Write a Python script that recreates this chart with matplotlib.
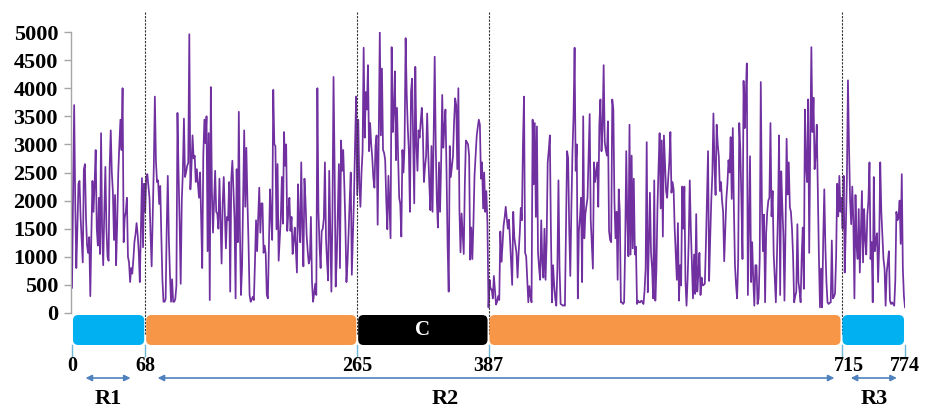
import numpy as np
import matplotlib
matplotlib.use("Agg")
import matplotlib.pyplot as plt
from matplotlib.patches import FancyBboxPatch, FancyArrowPatch
from matplotlib.transforms import blended_transform_factory

plt.rcParams["font.family"] = ["Liberation Serif", "DejaVu Serif"]
plt.rcParams["font.weight"] = "bold"

# ---------------- data ----------------
r1_vals = [450, 2000, 3700, 2000, 800, 1500, 2300, 2350, 1700, 1300,
           900, 2550, 2650, 1700, 1200, 1070, 1350, 300, 1400, 2350,
           1800, 2300, 2900, 1500, 1200, 2050, 1050, 3200, 1460, 850,
           1800, 2600, 1500, 1000, 930, 2600, 3250, 2500, 2150, 1300,
           2100, 850, 1600, 2500, 3000, 3440, 2900, 4000, 1260, 1700,
           1800, 2050, 1000, 900, 550, 800, 700, 950, 1260, 1400,
           1600, 1400, 1100, 550, 1500, 2400, 1170, 2300]

n_vals = [1800, 2420, 2470, 2250, 2050, 1400, 830, 1700, 2600, 3850,
          2700, 2330, 2360, 1940, 2260, 1370, 600, 200, 200, 250,
          1500, 2440, 1330, 700, 200, 600, 200, 200, 250, 490,
          3560, 2500, 1600, 520, 2000, 2500, 3460, 2420, 2500, 2620,
          2670, 4960, 2200, 2600, 3160, 2750, 2800, 2330, 2560, 2300,
          2050, 2500, 1700, 800, 2800, 3440, 3020, 3500, 1100, 3200,
          230,
          4020, 2170, 1430, 2000, 2530, 1800, 1770, 1500, 2390, 1600,
          880, 1950, 2420, 1800, 1150, 1710, 1650, 2330, 380, 2390,
          2710, 2200, 1680, 260, 2560, 1260, 3580, 1500, 320, 800,
          2000, 3250, 1890, 2940, 2000, 1260, 320, 200, 240, 290,
          230, 900, 1650, 1100, 1700, 2230, 1430, 1950, 1950, 1070,
          1200, 1050, 320, 260, 1200, 2200, 1700, 1300, 3970, 3000,
          2970, 1490, 2650, 930, 1300, 1680, 2420, 1590, 3220, 2620,
          3000, 1460, 1800, 2050, 1460, 1710, 1050, 1300, 1520, 1100,
          720, 2290, 1600, 1260, 2680, 1500, 830, 2390, 1980, 1390,
          1100, 880, 960, 1710, 550, 200, 350, 520, 320, 4000,
          1800, 1200, 800, 1460, 1500, 1680, 2680, 1330, 900, 580,
          2530, 1500, 380, 1740, 4200, 2600, 470, 960, 1800, 2650,
          800, 3070, 2530, 2900, 2300, 1600, 550, 900, 1420, 2000,
          2500, 680, 1400, 2050, 3000, 3850]

c_vals = [2100, 3440, 2290, 1890, 2500, 2880, 4720, 3120, 3930, 3620,
          4410, 2880, 3380, 3000, 2760, 2400, 2230, 2970, 3160, 1570,
          3120, 5000, 3160, 4350, 2900, 2850, 2720, 2000, 1490, 2440,
          1900, 1330, 4730, 3220, 3600, 4300, 2720, 3650, 2800, 2050,
          1940, 1360, 2900, 2500, 2970, 4890, 3900, 3300, 2880, 1800,
          3940, 4170, 3000, 1950, 4380, 3000, 2530, 3250, 3120, 3400,
          3650, 3220, 2330, 2600, 2790, 3550, 2850, 2300, 1830, 2970,
          1800, 3100, 4560, 2970, 2000, 1520, 2680, 1800, 2700, 3880,
          2940, 3300, 3620, 2530, 1200, 380, 2970, 2420, 2600, 2790,
          3400, 3820, 3700, 2560, 4000, 1830, 1080, 1770, 1400, 1050,
          2290, 3070, 3040, 3000, 2800, 950, 1520, 960, 1600, 2440,
          2800, 3140, 3300, 3440, 3350, 2390, 2680, 1860, 2500, 1800,
          2170, 1600]

m_vals = [100, 590, 420, 420, 260, 660, 400, 150, 200, 300,
          230, 1450, 910, 1200, 1550, 1700, 1890, 1680, 1500, 1660,
          1300, 900, 500, 1800, 1340, 1200, 1070, 630, 1070, 1400,
          1870, 1650, 3000, 3850, 1070, 1010, 600, 190, 480, 300,
          190, 3440, 2290, 3380, 1710, 3320, 1070, 800, 590, 1650,
          900, 630, 1500, 590, 1260, 2680, 2900, 3160, 1430, 190,
          850, 500, 260, 130, 790, 2360, 800, 160, 150, 130,
          140, 130, 1520, 2880, 2760, 1500, 660, 1860, 2850, 3500,
          4720, 2530, 3000, 260, 1460, 1700, 2050, 550, 3500, 1330,
          1760, 1900, 2050, 2800, 3540, 1650, 1200, 790, 2680, 2330,
          2500, 2680, 1890, 3350, 3800, 2880, 3300, 4410, 3040, 2900,
          2800, 3410, 1460, 1300, 1260, 3800, 3620, 2000, 1330, 1800,
          590, 2200, 1800, 190, 190, 160, 190, 1200, 2880, 1650,
          1010, 3350, 1040, 2800, 1150, 2390, 1040, 1180, 160, 220,
          190, 190, 220, 200, 160, 400, 790, 3040, 370, 1200,
          2140, 1070, 800, 260, 2360, 220, 760, 1890, 2600, 3200,
          1860, 3070, 1360, 3160, 2650, 2170, 2050, 2400, 2680, 3220,
          2140, 2330, 2200, 1500, 1040, 590, 1600, 220, 850, 490,
          2250, 1500, 2250, 570, 130, 600, 1260, 2360, 1500, 880,
          260, 1040, 340, 1760, 380, 700, 1070, 320, 630, 490,
          500, 520, 1200, 2050, 2880, 570, 1330, 2000, 2470, 3550,
          2620, 2100, 3350, 3000, 2790, 2170, 2330, 2000, 1800, 920,
          1460, 2030, 2300, 2720, 2500, 3130, 2030, 3290, 1880, 850,
          500, 260, 960, 3380, 2900, 2000, 960, 4130, 3290, 3800,
          4440, 320, 1500, 2790, 550, 1260, 600, 130, 850, 850,
          160, 260, 960, 4110, 2000, 1100, 1750, 190, 1420, 1800,
          2000, 2050, 3380, 1720, 2170, 1040, 600, 190, 1000, 1800,
          3160, 320, 2520, 1910, 1380, 220, 1500, 3100, 2110, 2680,
          1880, 1800, 1500, 1010, 190, 300, 380, 1580, 550, 400,
          190, 1000, 1520, 430, 3620, 2620, 2330, 3800, 1070, 3070,
          4730, 3220, 3830, 2560, 2800, 3350, 2170, 1000, 100, 790,
          100, 1290, 2200, 1200, 550, 190, 160, 180, 190, 1290,
          260, 290, 350, 1000, 2300, 1720, 2440, 1800]

r3_vals = [2050, 1500, 2440, 720, 1500, 2390, 4140, 2940, 2000, 1580,
           2250, 1650, 260, 2100, 1200, 960, 1850, 720, 1420, 2170,
           900, 1850, 1300, 1040, 1740, 2000, 2680, 960, 1260, 190,
           2420, 1100, 1300, 1420, 550, 1200, 2680, 1800, 1400, 960,
           790, 130, 720, 900, 1100, 220, 160, 190, 160, 130,
           580, 1800, 1650, 1700, 2000, 1230, 2470, 790, 300, 100]

boundaries = [0, 68, 265, 387, 715, 774]
segment_colors = ["#00B0F0", "#F79646", "#000000", "#F79646", "#00B0F0"]
segment_labels = ["", "", "C", "", ""]
divider_positions = [68, 265, 387, 715]
y_ticks = [0, 500, 1000, 1500, 2000, 2500, 3000, 3500, 4000, 4500, 5000]
regions = [("R1", 0, 68), ("R2", 68, 715), ("R3", 715, 774)]

values = np.array(r1_vals + n_vals + c_vals + m_vals + r3_vals, dtype=float)
xs = np.arange(len(values))

# ---------------- figure ----------------
W, H = 927, 408
fig = plt.figure(figsize=(W / 100, H / 100), dpi=100)


def fx(px):
    return px / W


def fy(py):
    return 1 - py / H


ax = fig.add_axes([fx(72), fy(313), fx(905) - fx(72), fy(32) - fy(313)])
ax.plot(xs, values, color="#7030A0", lw=1.25, zorder=3)
ax.set_xlim(0, 774)
ax.set_ylim(0, 5000)
ax.set_yticks(y_ticks)
ax.set_yticklabels([str(t) for t in y_ticks])
ax.tick_params(axis="y", labelsize=16, color="#A6A6A6", length=5, width=1.0, pad=4)
for lab in ax.get_yticklabels():
    lab.set_fontweight("bold")
ax.set_xticks([])
for s in ["top", "right", "bottom"]:
    ax.spines[s].set_visible(False)
ax.spines["left"].set_color("#A6A6A6")
ax.spines["left"].set_linewidth(1.0)
ax.spines["left"].set_position(("outward", 1))

# dashed dividers
for d in divider_positions:
    ax.plot([d, d], [5360, -380], color="#333333", lw=0.8, ls=(0, (2, 1.2)),
            clip_on=False, zorder=5)

# segment bar strip
bax = fig.add_axes([fx(72), fy(345), fx(905) - fx(72), fy(315) - fy(345)])
bax.set_xlim(0, 774)
bax.set_ylim(0, 1)
bax.axis("off")
aspect = (1 / 30) / (774 / 833)
for i in range(len(boundaries) - 1):
    a, b = boundaries[i], boundaries[i + 1]
    gap = 0.9
    patch = FancyBboxPatch((a + gap, 0), (b - a) - 2 * gap, 1,
                           boxstyle="round,pad=0,rounding_size=5",
                           mutation_aspect=aspect,
                           fc=segment_colors[i], ec="none", clip_on=False)
    bax.add_patch(patch)
    if segment_labels[i]:
        bax.text((a + b) / 2, 0.5, segment_labels[i], color="white",
                 ha="center", va="center", fontsize=15, fontweight="bold")

# boundary tick marks and labels
tr = blended_transform_factory(ax.transData, fig.transFigure)
for i, bnd in enumerate(boundaries):
    fig.lines.append(plt.Line2D([bnd, bnd], [fy(345), fy(356)], transform=tr,
                                color="#6FB7D6", lw=1.0))
    off = 7 if bnd == 715 else 0
    fig.text(bnd + off, fy(366), str(bnd), transform=tr, ha="center",
             va="center", fontsize=14.5, fontweight="bold")

# region arrows
arrow_pads = {"R1": (10, 11), "R2": (9, 4), "R3": (6, 5)}
label_x = {"R1": 34, "R2": 347, "R3": 745}
for name, a, b in regions:
    pa, pb = arrow_pads[name]
    arr = FancyArrowPatch((a + pa, fy(378)), (b - pb, fy(378)), transform=tr,
                          arrowstyle="<|-|>", mutation_scale=9,
                          color="#4F81BD", lw=1.2)
    fig.patches.append(arr)
    fig.text(label_x[name], fy(399), name, transform=tr, ha="center",
             va="center", fontsize=16, fontweight="bold")

fig.savefig("out.png", dpi=100)
